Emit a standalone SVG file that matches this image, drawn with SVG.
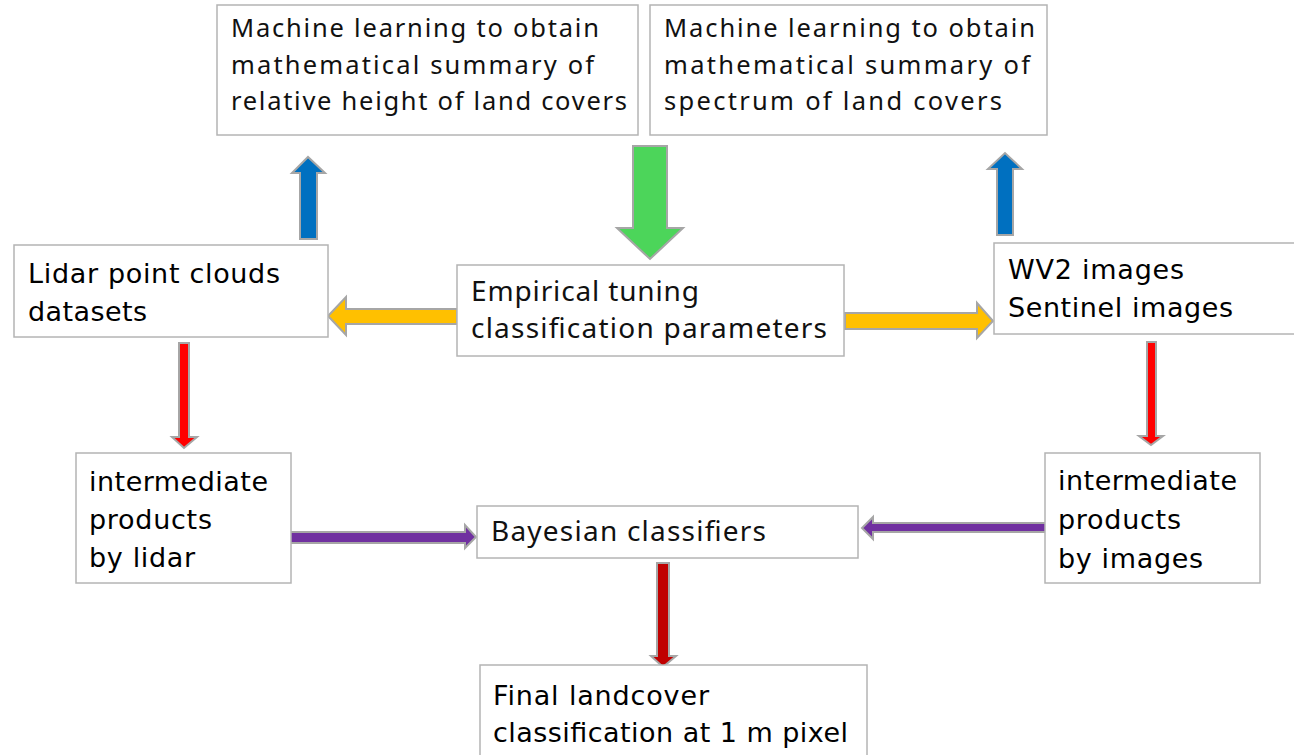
<svg xmlns="http://www.w3.org/2000/svg" width="1294" height="755" viewBox="0 0 1294 755">
  <style>
    .box { fill: #ffffff; stroke: #b4b4b4; stroke-width: 1.5; }
    .arrow { stroke: #a6a6a6; stroke-width: 2; stroke-linejoin: miter; }
    .ta { font-family: "Noto Sans", "Open Sans", sans-serif; fill: #111111; }
    .tb { font-family: "DejaVu Sans", "Liberation Sans", sans-serif; fill: #000000; }
  </style>
  <rect width="1294" height="755" fill="#ffffff"/>

  <!-- connectors: block arrows -->
  <g id="connectors">
    <!-- green: tuning feedback down to empirical box -->
    <polygon class="arrow" fill="#4cd55a" points="633,146 667,146 667,228 683,228 650,259 617,228 633,228"/>
    <!-- blue: lidar up to height summary -->
    <polygon class="arrow" fill="#0070c0" points="300,239 317,239 317,173 325,173 308,157 292,173 300,173"/>
    <!-- blue: images up to spectrum summary -->
    <polygon class="arrow" fill="#0070c0" points="997,235 1013,235 1013,169 1022,169 1005,153 988,169 997,169"/>
    <!-- yellow: empirical to lidar -->
    <polygon class="arrow" fill="#ffc000" points="457,309 457,324 346,324 346,335 328,316 346,297 346,309"/>
    <!-- yellow: empirical to images -->
    <polygon class="arrow" fill="#ffc000" points="845,313 977,313 977,303 993,321 977,338 977,329 845,329"/>
    <!-- red: lidar to intermediate -->
    <polygon class="arrow" fill="#ff0000" points="179,343 189,343 189,437 197,437 184,448 172,437 179,437"/>
    <!-- red: images to intermediate -->
    <polygon class="arrow" fill="#ff0000" points="1147,342 1156,342 1156,436 1163,436 1151,445 1139,436 1147,436"/>
    <!-- purple: lidar products to bayesian -->
    <polygon class="arrow" fill="#7030a0" points="288,532 465,532 465,525 476,537 465,548 465,543 288,543"/>
    <!-- purple: image products to bayesian -->
    <polygon class="arrow" fill="#7030a0" points="1050,523 1050,532 873,532 873,539 862,528 873,517 873,523"/>
    <!-- dark red: bayesian to final -->
    <polygon class="arrow" fill="#c00000" points="657,563 669,563 669,656 676,656 663,667 651,656 657,656"/>
  </g>

  <g id="node-height">
    <rect class="box" x="217" y="5" width="421" height="130"/>
    <text class="ta" font-size="25.5">
      <tspan x="231" y="37" textLength="368">Machine learning to obtain</tspan>
      <tspan x="231" y="74" textLength="363">mathematical summary of</tspan>
      <tspan x="231" y="110" textLength="396">relative height of land covers</tspan>
    </text>
  </g>

  <g id="node-spectrum">
    <rect class="box" x="650" y="5" width="397" height="130"/>
    <text class="ta" font-size="25.5">
      <tspan x="664" y="37" textLength="371">Machine learning to obtain</tspan>
      <tspan x="664" y="74" textLength="366">mathematical summary of</tspan>
      <tspan x="664" y="110" textLength="338">spectrum of land covers</tspan>
    </text>
  </g>

  <g id="node-lidar">
    <rect class="box" x="14" y="245" width="314" height="92"/>
    <text class="tb" font-size="27">
      <tspan x="28" y="283" textLength="252">Lidar point clouds</tspan>
      <tspan x="28" y="321" textLength="119">datasets</tspan>
    </text>
  </g>

  <g id="node-empirical">
    <rect class="box" x="457" y="265" width="387" height="91"/>
    <text class="ta" font-size="28">
      <tspan x="471" y="301" textLength="228">Empirical tuning</tspan>
      <tspan x="471" y="338" textLength="356">classification parameters</tspan>
    </text>
  </g>

  <g id="node-images">
    <rect class="box" x="994" y="243" width="310" height="91"/>
    <text class="tb" font-size="27">
      <tspan x="1008" y="279" textLength="176">WV2 images</tspan>
      <tspan x="1008" y="317" textLength="225">Sentinel images</tspan>
    </text>
  </g>

  <g id="node-products-lidar">
    <rect class="box" x="76" y="453" width="215" height="130"/>
    <text class="tb" font-size="27">
      <tspan x="89" y="491" textLength="179">intermediate</tspan>
      <tspan x="89" y="529" textLength="123">products</tspan>
      <tspan x="89" y="567" textLength="106">by lidar</tspan>
    </text>
  </g>

  <g id="node-bayesian">
    <rect class="box" x="477" y="506" width="381" height="52"/>
    <text class="ta" font-size="28" x="491" y="541" textLength="275">Bayesian classifiers</text>
  </g>

  <g id="node-products-images">
    <rect class="box" x="1045" y="453" width="215" height="130"/>
    <text class="tb" font-size="27">
      <tspan x="1058" y="490" textLength="179">intermediate</tspan>
      <tspan x="1058" y="529" textLength="123">products</tspan>
      <tspan x="1058" y="568" textLength="145">by images</tspan>
    </text>
  </g>

  <g id="node-final">
    <rect class="box" x="480" y="665" width="387" height="100"/>
    <text class="tb" font-size="27">
      <tspan x="493" y="705" textLength="216">Final landcover</tspan>
      <tspan x="493" y="742" textLength="355">classification at 1 m pixel</tspan>
    </text>
  </g>
</svg>
